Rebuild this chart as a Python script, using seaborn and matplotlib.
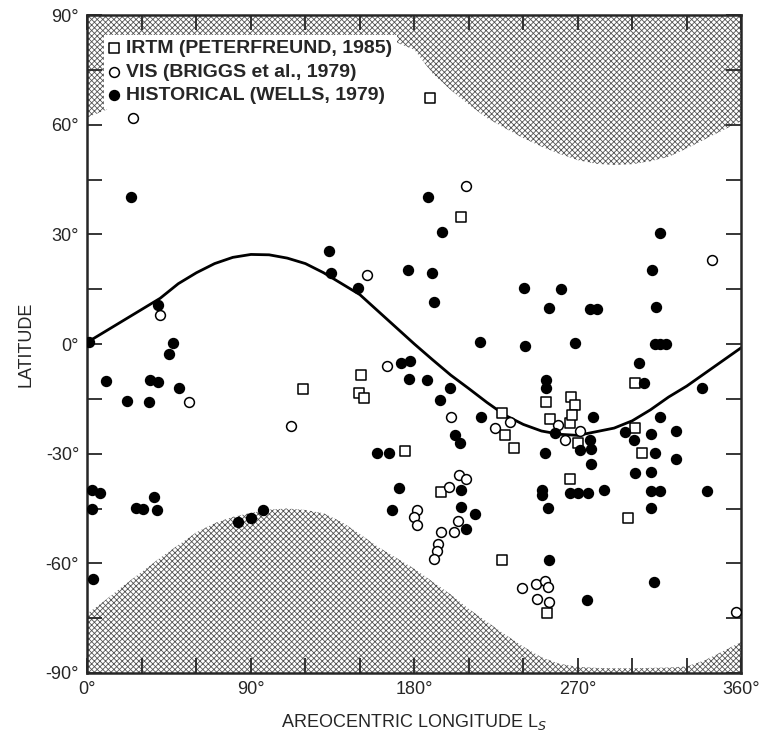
import matplotlib
matplotlib.use("Agg")
import matplotlib.pyplot as plt
import pandas as pd
import seaborn as sns

# IRTM (Peterfreund, 1985) - open squares: (Ls, latitude)
irtm_ls = [188.5, 205.4, 118.4, 150.4, 149.6, 152.3, 175.1, 194.6, 228.5, 229.8,
           234.9, 252.7, 254.5, 265.5, 266.5, 268.3, 267.0, 270.1, 265.5, 301.3,
           301.3, 305.3, 297.6, 228.5, 253.0]
irtm_lat = [67.2, 34.8, -12.4, -8.5, -13.3, -14.8, -29.4, -40.4, -19.0, -24.9,
            -28.5, -15.8, -20.6, -21.7, -14.6, -16.7, -19.4, -27.2, -37.0, -10.6,
            -22.9, -29.9, -47.5, -59.1, -73.7]

# VIS (Briggs et al., 1979) - open circles
vis_ls = [25.0, 40.0, 56.0, 111.8, 153.7, 165.2, 208.3, 200.4, 204.6, 208.7,
          199.0, 181.2, 179.9, 181.2, 204.1, 194.9, 201.7, 193.1, 192.2, 190.7,
          224.3, 232.9, 259.1, 262.8, 271.0, 239.0, 246.8, 251.8, 253.6, 247.6,
          254.2, 343.9, 356.9]
vis_lat = [61.8, 7.9, -16.0, -22.5, 18.9, -6.0, 43.2, -20.0, -35.8, -37.0,
           -39.0, -45.4, -47.2, -49.5, -48.3, -51.3, -51.3, -54.8, -56.6, -58.8,
           -22.9, -21.2, -22.2, -26.3, -23.7, -66.7, -65.6, -64.8, -66.5, -69.8,
           -70.5, 23.0, -73.2]

# Historical (Wells, 1979) - filled circles
hist_ls = [24.0, 1.0, 38.6, 46.9, 45.0, 10.2, 34.4, 39.0, 50.5, 21.9,
           33.8, 2.3, 6.9, 2.3, 26.7, 30.7, 36.6, 38.1, 82.7, 90.0,
           96.8, 2.9, 187.6, 195.0, 133.1, 134.0, 149.0, 176.6, 189.8, 190.7,
           216.0, 172.9, 177.5, 177.1, 187.0, 199.5, 194.0, 216.6, 202.6, 205.0,
           159.2, 166.1, 171.6, 167.8, 205.6, 205.6, 213.3, 208.3, 315.4, 311.0,
           240.4, 260.6, 254.2, 276.6, 280.6, 312.9, 240.8, 268.7, 312.3, 315.4,
           318.4, 303.7, 338.6, 252.7, 252.7, 306.3, 278.4, 257.3, 276.6, 277.5,
           271.0, 277.5, 251.8, 250.0, 250.5, 253.6, 265.5, 270.1, 275.6, 284.4,
           296.2, 315.1, 310.1, 300.9, 324.3, 312.3, 324.3, 301.3, 310.5, 310.1,
           315.1, 341.3, 310.1, 254.0, 312.0, 275.3]
hist_lat = [40.3, 0.5, 10.7, 0.4, -2.8, -10.1, -9.8, -10.3, -12.0, -15.6,
            -16.0, -39.9, -40.7, -45.2, -44.9, -45.2, -41.8, -45.4, -48.6, -47.7,
            -45.4, -64.4, 40.1, 30.7, 25.4, 19.3, 15.4, 20.2, 19.3, 11.6,
            0.5, -5.3, -4.6, -9.7, -9.8, -11.9, -15.3, -19.9, -24.9, -27.0,
            -29.7, -29.7, -39.5, -45.4, -39.9, -44.7, -46.6, -50.6, 30.3, 20.2,
            15.4, 15.0, 9.8, 9.5, 9.5, 10.0, -0.5, 0.4, -0.1, -0.1,
            -0.1, -5.1, -11.9, -9.8, -11.9, -10.6, -20.0, -24.4, -26.3, -28.8,
            -29.0, -32.8, -29.9, -39.9, -41.3, -44.9, -40.8, -40.8, -40.8, -39.9,
            -24.0, -20.0, -24.7, -26.3, -23.8, -29.9, -31.5, -35.2, -34.9, -40.2,
            -40.2, -40.2, -44.8, -59.1, -65.2, -70.0]

# curve and shaded boundaries, read every 10 deg of Ls
curve_ls = list(range(0, 361, 10))
subsolar_lat = [0.5, 3.5, 6.5, 9.5, 12.5, 16.5, 19.5, 22.0, 23.7, 24.5,
                24.4, 23.5, 22.0, 19.5, 16.5, 13.5, 9.0, 4.5, 0.0, -4.3,
                -8.5, -12.2, -16.0, -19.5, -22.0, -23.8, -24.7, -25.0, -24.0, -23.0,
                -21.0, -18.0, -14.5, -11.5, -8.0, -4.5, -1.0]
# north edge is mostly hidden behind the legend box between Ls 10 and 175
north_edge = [62.0, 64.0, 67.0, 70.0, 73.0, 75.0, 77.0, 78.5, 79.5, 80.0,
              80.0, 80.0, 80.0, 80.0, 80.0, 80.5, 81.5, 82.5, 80.5, 74.0,
              69.5, 65.5, 61.8, 59.0, 56.3, 54.0, 52.0, 50.3, 49.3, 49.0,
              49.2, 50.0, 51.2, 53.5, 56.0, 58.5, 61.0]
south_edge = [-73.7, -70.0, -66.0, -62.3, -58.5, -55.0, -51.5, -49.0, -47.3, -46.2,
              -45.3, -45.0, -45.4, -46.3, -48.7, -52.0, -55.5, -58.5, -61.5, -65.0,
              -68.5, -72.5, -76.0, -79.5, -82.8, -85.7, -87.5, -88.3, -88.6, -88.7,
              -88.7, -88.6, -88.5, -88.2, -86.5, -84.0, -81.5]

x_ticks = [0, 90, 180, 270, 360]
y_ticks = [90, 60, 30, 0, -30, -60, -90]


def main():
    sns.set_theme(style="ticks")
    plt.rcParams["font.family"] = ["Liberation Sans", "DejaVu Sans"]
    plt.rcParams["hatch.linewidth"] = 0.6

    fig = plt.figure(figsize=(7.62, 7.36), dpi=100)
    ax = fig.add_axes([0.1148, 0.0856, 0.858, 0.894])

    # stippled regions
    ax.fill_between(curve_ls, north_edge, 90, facecolor="white", edgecolor="#555555",
                    hatch="xxxxxx", linewidth=0, zorder=0)
    ax.fill_between(curve_ls, -90, south_edge, facecolor="white", edgecolor="#555555",
                    hatch="xxxxxx", linewidth=0, zorder=0)

    curve = pd.DataFrame({"ls": curve_ls, "lat": subsolar_lat})
    sns.lineplot(data=curve, x="ls", y="lat", color="black", linewidth=2.0, ax=ax, zorder=2)

    common = dict(s=50, linewidth=1.1, edgecolor="black", ax=ax, zorder=3)
    sns.scatterplot(x=irtm_ls, y=irtm_lat, marker="s", color="white",
                    label="IRTM (PETERFREUND, 1985)", **common)
    sns.scatterplot(x=vis_ls, y=vis_lat, marker="o", color="white",
                    label="VIS (BRIGGS et al., 1979)", **common)
    sns.scatterplot(x=hist_ls, y=hist_lat, marker="o", color="black",
                    label="HISTORICAL (WELLS, 1979)", **common)

    ax.set_xlim(0, 360)
    ax.set_ylim(-90, 90)
    ax.set_xticks(x_ticks)
    ax.set_xticklabels([f"{v}°" for v in x_ticks])
    ax.set_xticks(range(0, 361, 30), minor=True)
    ax.set_yticks(y_ticks)
    ax.set_yticklabels([f"{v}°" for v in y_ticks])
    ax.set_yticks(range(-90, 91, 15), minor=True)
    ax.tick_params(which="both", direction="in", length=11, width=1.3,
                   top=True, right=True, labelsize=13, pad=6)
    for side in ax.spines.values():
        side.set_linewidth(1.8)
        side.set_visible(True)

    ax.set_xlabel("AREOCENTRIC LONGITUDE L$_S$", fontsize=13, labelpad=10)
    ax.set_ylabel("LATITUDE", fontsize=13, labelpad=8)

    leg = ax.legend(loc="upper left", bbox_to_anchor=(0.026, 0.970), borderaxespad=0,
                    frameon=True, fancybox=False, framealpha=1, facecolor="white",
                    edgecolor="none", fontsize=14, handlelength=0.5, handletextpad=0.35,
                    labelspacing=0.3, borderpad=0.25, markerscale=1.0)
    leg.set_zorder(2.5)
    for t in leg.get_texts():
        t.set_fontweight("bold")

    fig.savefig("out.png", dpi=100)
    plt.close(fig)


if __name__ == "__main__":
    main()
